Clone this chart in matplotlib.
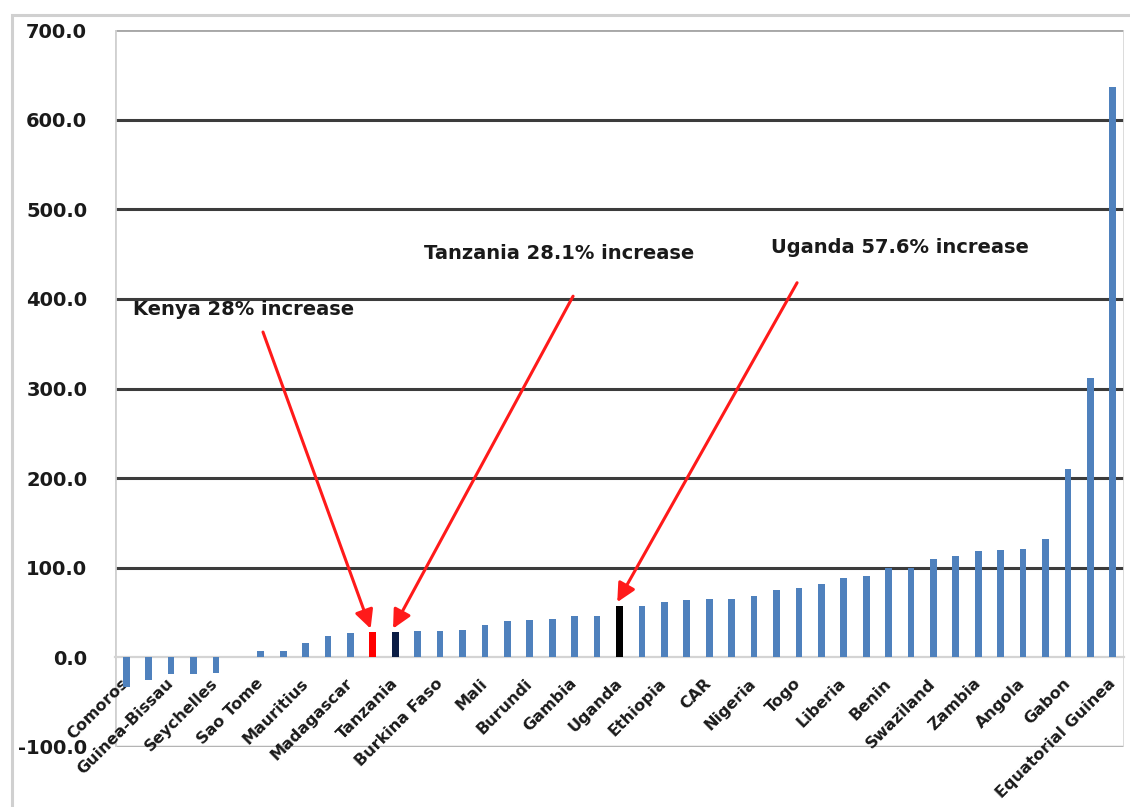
import matplotlib
matplotlib.use("Agg")
import matplotlib.pyplot as plt
from matplotlib.patches import Rectangle

# percentage change per country, sorted ascending
values = [-33, -25, -18.6, -18.6, -17, 0, 7.4, 7.4, 15.6, 24, 26.8, 28, 28.1, 29.4, 29.7,
          30.1, 36.1, 40.9, 41.3, 42.4, 45.8, 46.5, 57.6, 57.7, 61.4, 63.6, 64.7, 64.7, 68.8,
          75.1, 77.7, 81.8, 88.1, 91.1, 99.3, 100, 109.3, 113, 118.2, 119.7, 120.4, 131.6,
          210, 311.4, 636.8]

# only every second category gets a label on the axis
labels = ['Comoros', 'Guinea-Bissau', 'Seychelles', 'Sao Tome', 'Mauritius', 'Madagascar',
          'Tanzania', 'Burkina Faso', 'Mali', 'Burundi', 'Gambia', 'Uganda', 'Ethiopia',
          'CAR', 'Nigeria', 'Togo', 'Liberia', 'Benin', 'Swaziland', 'Zambia', 'Angola',
          'Gabon', 'Equatorial Guinea']

yticks = [-100, 0, 100, 200, 300, 400, 500, 600, 700]

# highlighted bars: Kenya, Tanzania, Uganda
highlight_idx = [11, 12, 22]
highlight_col = ['#ff0000', '#0b1d45', '#000000']
notes = ['Kenya 28% increase', 'Tanzania 28.1% increase', 'Uganda 57.6% increase']
note_xy = [(0.30, 388), (13.28, 451), (28.76, 457)]
arrow_tail = [(6.10, 363), (19.93, 403), (29.92, 418)]

blue = '#4f81bd'
colors = [blue] * len(values)
for i, c in zip(highlight_idx, highlight_col):
    colors[i] = c

fig = plt.figure(figsize=(11.3, 8.07), dpi=100)
ax = fig.add_axes([115 / 1130, 1 - 747 / 807, 1009 / 1130, 717 / 807])

x = list(range(len(values)))
ax.bar(x, values, width=0.3, color=colors, zorder=2)

ax.set_xlim(-0.5, len(values) - 0.5)
ax.set_ylim(-100, 700)

# horizontal gridlines
for v in yticks:
    if v in (-100, 0, 700):
        continue
    ax.axhline(v, color='#3c3c3c', lw=2.2, zorder=1)
ax.axhline(700, color='#a8a8a8', lw=2.8, zorder=1)
ax.axhline(-100, color='#b4b4b4', lw=2.5, zorder=1)

for s in ['top', 'right', 'left', 'bottom']:
    ax.spines[s].set_visible(False)
ax.spines['bottom'].set_visible(True)
ax.spines['bottom'].set_position(('data', 0))
ax.spines['bottom'].set_color('#d4d4d4')
ax.spines['bottom'].set_linewidth(1.6)
ax.spines['bottom'].set_zorder(1)
ax.axvline(-0.5, color='#d0d0d0', lw=2, zorder=1)
ax.axvline(len(values) - 0.5, color='#d8d8d8', lw=2, zorder=1)

ax.set_yticks(yticks)
ax.set_yticklabels([f'{v:.1f}' for v in yticks], fontsize=14, fontweight='bold',
                   color='#1a1a1a', family='DejaVu Sans')
ax.tick_params(axis='y', length=0, pad=20)

ax.set_xticks(x[::2])
ax.set_xticklabels(labels, rotation=45, ha='right', va='center', rotation_mode='anchor',
                   fontsize=11.5, fontweight='bold', color='#1a1a1a', family='DejaVu Sans')
ax.tick_params(axis='x', length=0, pad=17)

for t, (tx, ty), (ax0, ay0), i in zip(notes, note_xy, arrow_tail, highlight_idx):
    ax.text(tx, ty, t, fontsize=14, fontweight='bold', color='#1a1a1a',
            family='DejaVu Sans', ha='left', va='center')
    ax.annotate('', xy=(i - 0.1, values[i] + 4), xytext=(ax0, ay0),
                arrowprops=dict(arrowstyle='-|>', color='#ff1a1a', lw=2.2,
                                mutation_scale=28, shrinkA=0, shrinkB=0))

# outer chart border
fig.patches.append(Rectangle((12 / 1130, -0.1), 1.2, 1.1 - 15 / 807,
                             transform=fig.transFigure, fill=False,
                             edgecolor='#d0d0d0', lw=2.2))

fig.savefig('out.png', dpi=100, facecolor='white')
